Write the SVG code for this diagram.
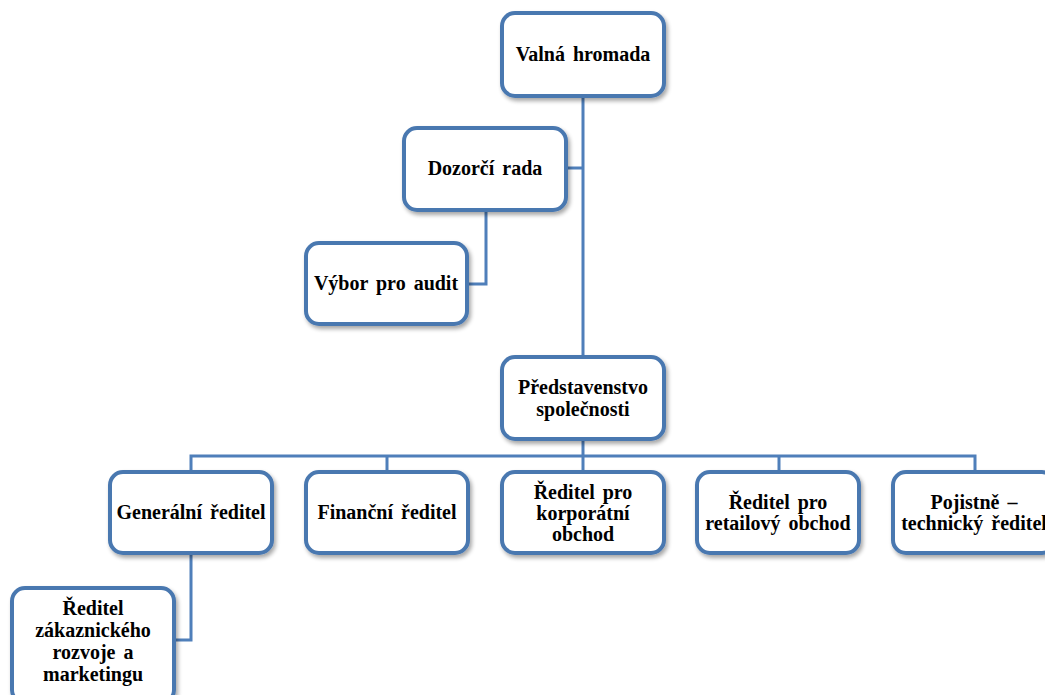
<svg xmlns="http://www.w3.org/2000/svg" width="1045" height="695" viewBox="0 0 1045 695">
  <defs>
    <filter id="shadow" x="-10%" y="-10%" width="125%" height="130%">
      <feGaussianBlur in="SourceAlpha" stdDeviation="2"/>
      <feOffset dx="2" dy="3" result="off"/>
      <feComponentTransfer><feFuncA type="linear" slope="0.35"/></feComponentTransfer>
      <feMerge><feMergeNode/><feMergeNode in="SourceGraphic"/></feMerge>
    </filter>
  </defs>
  <style>
    .box { fill: #ffffff; stroke: #4a78b0; stroke-width: 4; filter: url(#shadow); }
    .lbl { font-family: "Liberation Serif", "Times New Roman", serif; font-weight: bold; font-size: 20px; fill: #000000; text-anchor: middle; word-spacing: 3px; }
    .conn { fill: none; stroke: #4f7fba; stroke-width: 3; }
  </style>
  <rect width="1045" height="695" fill="#ffffff"/>

  <g id="connectors">
    <path class="conn" d="M583 96 V357"/>
    <path class="conn" d="M566 168 H583"/>
    <path class="conn" d="M486 210 V284 H467"/>
    <path class="conn" d="M583 439 V472"/>
    <path class="conn" d="M191 472 V456 H975 V472"/>
    <path class="conn" d="M387 456 V472"/>
    <path class="conn" d="M779 456 V472"/>
    <path class="conn" d="M191 553 V640 H174"/>
  </g>

  <g id="valna-hromada">
    <rect class="box" x="502" y="13" width="162" height="83" rx="13"/>
    <text class="lbl" x="583" y="61">Valná hromada</text>
  </g>
  <g id="dozorci-rada">
    <rect class="box" x="404" y="128" width="162" height="82" rx="13"/>
    <text class="lbl" x="485" y="175">Dozorčí rada</text>
  </g>
  <g id="vybor-pro-audit">
    <rect class="box" x="306" y="243" width="161" height="81" rx="13"/>
    <text class="lbl" x="386" y="290">Výbor pro audit</text>
  </g>
  <g id="predstavenstvo">
    <rect class="box" x="502" y="357" width="162" height="82" rx="13"/>
    <text class="lbl" x="583" y="394">Představenstvo</text>
    <text class="lbl" x="583" y="416">společnosti</text>
  </g>
  <g id="generalni-reditel">
    <rect class="box" x="110" y="472" width="162" height="81" rx="13"/>
    <text class="lbl" x="191" y="519">Generální ředitel</text>
  </g>
  <g id="financni-reditel">
    <rect class="box" x="306" y="472" width="162" height="81" rx="13"/>
    <text class="lbl" x="387" y="519">Finanční ředitel</text>
  </g>
  <g id="reditel-korporatni">
    <rect class="box" x="502" y="472" width="162" height="81" rx="13"/>
    <text class="lbl" x="583" y="499">Ředitel pro</text>
    <text class="lbl" x="583" y="520">korporátní</text>
    <text class="lbl" x="583" y="541">obchod</text>
  </g>
  <g id="reditel-retail">
    <rect class="box" x="697" y="472" width="162" height="81" rx="13"/>
    <text class="lbl" x="778" y="509">Ředitel pro</text>
    <text class="lbl" x="778" y="530">retailový obchod</text>
  </g>
  <g id="pojistne-technicky">
    <rect class="box" x="893" y="472" width="162" height="81" rx="13"/>
    <text class="lbl" x="974" y="509">Pojistně –</text>
    <text class="lbl" x="974" y="530">technický ředitel</text>
  </g>
  <g id="reditel-zakaznicky">
    <rect class="box" x="12" y="588" width="162" height="115" rx="13"/>
    <text class="lbl" x="93" y="615">Ředitel</text>
    <text class="lbl" x="93" y="637">zákaznického</text>
    <text class="lbl" x="93" y="659">rozvoje a</text>
    <text class="lbl" x="93" y="681">marketingu</text>
  </g>
</svg>
